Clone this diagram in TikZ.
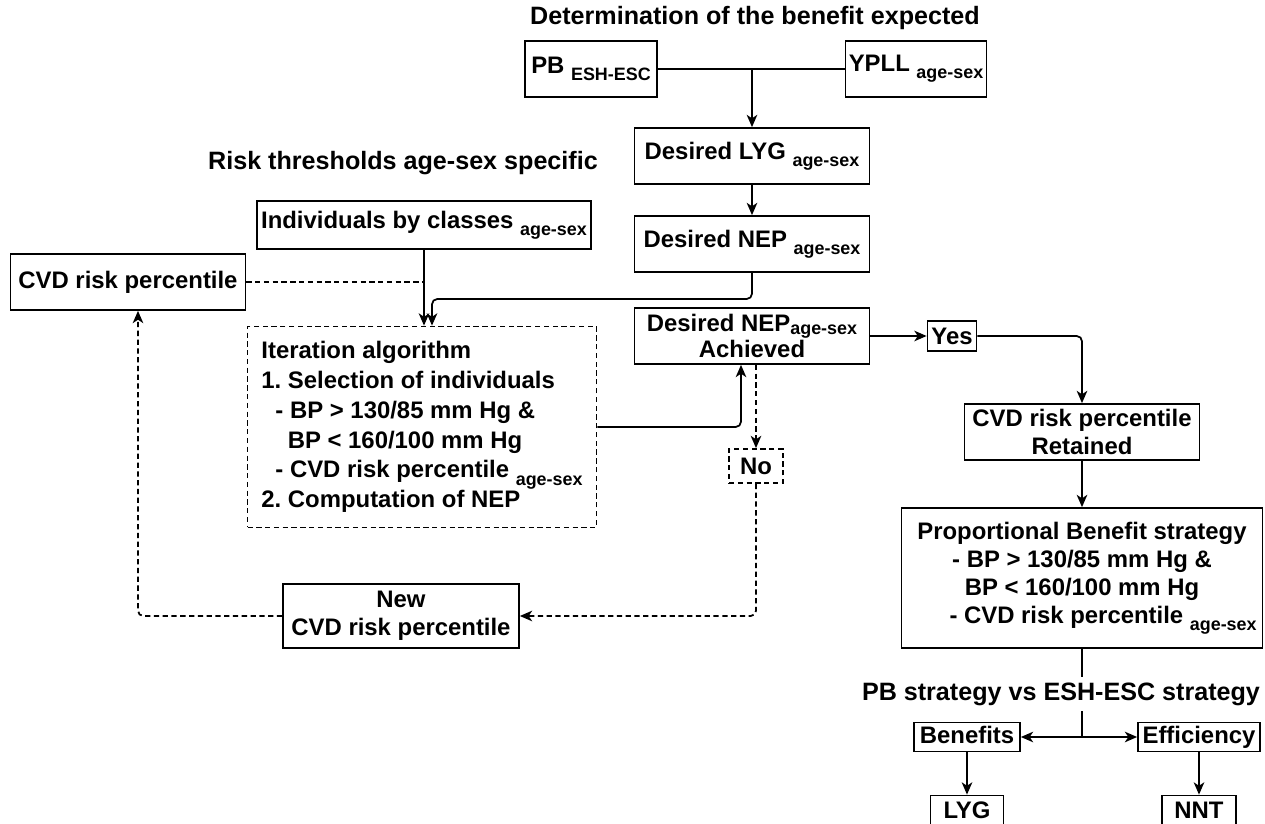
\documentclass[tikz,border=0pt]{standalone}
\usepackage{fontspec}
\setmainfont{Liberation Sans}
\usetikzlibrary{arrows.meta}
\newcommand{\subtxt}[1]{\raisebox{-4pt}{\fontsize{10.2}{12}\selectfont #1}}
\begin{document}
\frenchspacing
\begin{tikzpicture}[x=0.02cm,y=-0.02cm,>={Stealth[length=7pt,width=6pt,inset=2pt]},
	box/.style={draw,line width=1pt,inner sep=1pt,font=\fontsize{13.6}{16}\selectfont\bfseries},
	dbox/.style={box,dash pattern=on 3pt off 2pt},
	ttl/.style={font=\fontsize{14.3}{17}\selectfont\bfseries,inner sep=3pt},
	ln/.style={line width=1pt,rounded corners=3pt},
	dln/.style={ln,dash pattern=on 3pt off 2pt}]
		\useasboundingbox (0,0) rectangle (1265,824);
		% benefit expected
		\node[ttl] (t1) at (755,18) {Determination of the benefit expected};
		\node[box,minimum width=2.64cm,minimum height=1.12cm] (pb) at (591,69) {PB \subtxt{ESH-ESC}};
		\node[box,minimum width=2.82cm,minimum height=1.12cm] (ypll) at (916,69) {YPLL \subtxt{age-sex}};
		\node[box,minimum width=4.7cm,minimum height=1.12cm] (lyg) at (752,156) {Desired LYG \subtxt{age-sex}};
		\node[box,minimum width=4.7cm,minimum height=1.12cm] (nep) at (752,244) {Desired NEP \subtxt{age-sex}};
		% risk thresholds
		\node[ttl] (t2) at (403,163) {Risk thresholds age-sex specific};
		\node[box,minimum width=6.68cm,minimum height=0.96cm] (indiv) at (424,225) {Individuals by classes \subtxt{age-sex}};
		\node[box,minimum width=4.7cm,minimum height=1.12cm] (cvd) at (128,282) {CVD risk percentile};
		\node[dbox,align=left,font=\fontsize{13.6}{17}\selectfont\bfseries,minimum width=6.98cm,minimum height=4.02cm] (iter) at (422,427)
			{Iteration algorithm\\1. Selection of individuals\\\hspace*{8pt}- BP > 130/85 mm Hg \&\\\hspace*{15pt}BP < 160/100 mm Hg\\\hspace*{8pt}- CVD risk percentile \subtxt{age-sex}\\2. Computation of NEP};
		\node[box,align=center,font=\fontsize{13.6}{15.3}\selectfont\bfseries,minimum width=4.7cm,minimum height=1.12cm] (ach) at (752,336)
			{Desired NEP\raisebox{-2pt}{\fontsize{10.2}{12}\selectfont age-sex}\\Achieved};
		\node[box,minimum width=0.98cm,minimum height=0.6cm] (yes) at (952,336) {Yes};
		\node[dbox,minimum width=1.08cm,minimum height=0.68cm] (no) at (756,466) {No};
		\node[box,align=center,minimum width=4.72cm,minimum height=1.28cm] (new) at (401,616) {New\\CVD risk percentile};
		% retained strategy
		\node[box,align=center,minimum width=4.7cm,minimum height=1.12cm] (ret) at (1082,432) {CVD risk percentile\\Retained};
		\node[box,align=center,minimum width=7.22cm,minimum height=2.8cm] (prop) at (1082,578)
			{Proportional Benefit strategy\\- BP > 130/85 mm Hg \&\\BP < 160/100 mm Hg\\\hspace*{24pt}- CVD risk percentile \subtxt{age-sex}};
		\node[ttl] (t3) at (1061,694) {PB strategy vs ESH-ESC strategy};
		\node[box,text height=10pt,text depth=3pt,minimum width=2.12cm,minimum height=0.58cm] (ben) at (967,737) {Benefits};
		\node[box,text height=10pt,text depth=3pt,minimum width=2.44cm,minimum height=0.58cm] (eff) at (1199,737) {Efficiency};
		\node[box,minimum width=1.46cm,minimum height=0.58cm] (lygb) at (967,810) {LYG};
		\node[box,minimum width=1.48cm,minimum height=0.58cm] (nnt) at (1199,810) {NNT};
		% connectors
		\coordinate (k1) at (432,299);
		\coordinate (k2) at (741,427);
		\coordinate (k4) at (prop.south |- ben.east);
		\draw[ln] (pb.east) -- (ypll.west);
		\draw[ln,->] (pb.east -| lyg.north) -- (lyg.north);
		\draw[ln,->] (lyg.south) -- (nep.north);
		\draw[ln,->] (nep.south) |- (k1) -- (k1 |- iter.north);
		\draw[ln,->] (indiv.south) -- (indiv.south |- iter.north);
		\draw[dln] (cvd.east) -- (cvd.east -| indiv.south);
		\draw[ln,->] (iter.east |- k2) -- (k2) -- (k2 |- ach.south);
		\draw[dln,->] (no.north |- ach.south) -- (no.north);
		\draw[dln,->] (no.south) |- (new.east);
		\draw[dln,->] (new.west) -| ([xshift=0.2cm]cvd.south);
		\draw[ln,->] (ach.east) -- (yes.west);
		\draw[ln,->] (yes.east) -| (ret.north);
		\draw[ln,->] (ret.south) -- (prop.north);
		\draw[ln] (prop.south) -- (prop.south |- t3.north);
		\draw[ln] (prop.south |- t3.south) -- (k4);
		\draw[ln,->] (k4) -- (ben.east);
		\draw[ln,->] (k4) -- (eff.west);
		\draw[ln,->] (ben.south) -- (lygb.north);
		\draw[ln,->] (eff.south) -- (nnt.north);
\end{tikzpicture}
\end{document}
